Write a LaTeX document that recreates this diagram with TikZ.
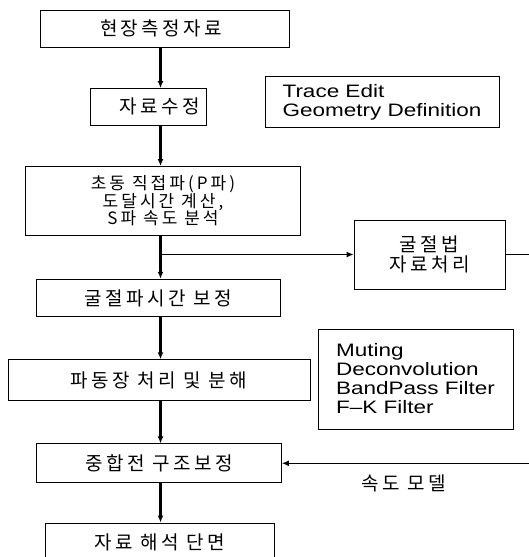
\documentclass[tikz,border=0pt]{standalone}
\usepackage{fontspec}
\setmainfont{Liberation Sans}
\newfontfamily\krface[LetterSpace=18]{Noto Sans CJK KR}
\newfontfamily\enface[FakeStretch=1.25]{Liberation Sans}
\newcommand{\krfont}{\krface\fontsize{19}{20}\selectfont}
\newcommand{\krsmall}{\krface\fontsize{17}{17.5}\selectfont\lineskiplimit=-20pt}
\newcommand{\enfont}{\enface\fontsize{18}{19}\selectfont}
\usetikzlibrary{arrows.meta}

\begin{document}
\begin{tikzpicture}[x=1pt, y=-1pt,
    box/.style={draw, line width=0.9pt, inner sep=0pt, align=center, font=\krfont},
    note/.style={draw, line width=0.9pt, inner sep=0pt, align=left, font=\enfont},
    arrow/.style={-{Latex[length=7pt,width=6pt]}, line width=2.4pt},
    link/.style={-{Latex[length=7pt,width=6pt]}, line width=1.2pt}
]
    \useasboundingbox (0,0) rectangle (529,557);

    \node[box, minimum width=249, minimum height=37] (field) at (165,28.7) {현장측정자료\hspace*{8pt}};
    \node[box, minimum width=116, minimum height=36.5] (edit) at (148.6,106.8) {\hspace*{22pt}자료수정};
    \node[note, minimum width=234, minimum height=51] (geom) at (382,102) {Trace Edit\\Geometry Definition};
    \node[box, minimum width=275, minimum height=69, font=\krsmall] (pick) at (163,201) {초동 직접파(P파)\\도달시간 계산,\\S파 속도 분석};
    \node[box, minimum width=151, minimum height=69] (refr) at (429.5,254.5) {굴절법\\자료처리};
    \node[box, minimum width=244, minimum height=37.5] (stat) at (158,298) {굴절파시간 보정};
    \node[box, minimum width=302, minimum height=40.5] (wave) at (159,380) {파동장 처리 및 분해};
    \node[note, minimum width=195, minimum height=100] (filt) at (415.5,379) {Muting\\Deconvolution\\BandPass Filter\\F–K Filter};
    \node[box, minimum width=245, minimum height=39] (migr) at (159,463.3) {중합전 구조보정};
    \node[box, minimum width=229, minimum height=39] (sect) at (159.5,542.5) {자료 해석 단면};
    \node[font=\krfont] (vel) at (404,483) {속도 모델};

    \coordinate (spine) at (160.5,0);
    \coordinate (outA) at (529,254.5);
    \coordinate (outB) at (529,463.3);

    \draw[arrow] (field.south -| spine) -- (edit.north -| spine);
    \draw[arrow] (edit.south -| spine) -- (pick.north -| spine);
    \draw[arrow] (pick.south -| spine) -- (stat.north -| spine);
    \draw[arrow] (stat.south -| spine) -- (wave.north -| spine);
    \draw[arrow] (wave.south -| spine) -- (migr.north -| spine);
    \draw[arrow] (migr.south -| spine) -- (sect.north -| spine);
    \draw[link] (spine |- refr.west) -- (refr.west);
    \draw[line width=1.2pt] (refr.east) -- (outA);
    \draw[link] (outB) -- (migr.east);
\end{tikzpicture}
\end{document}
